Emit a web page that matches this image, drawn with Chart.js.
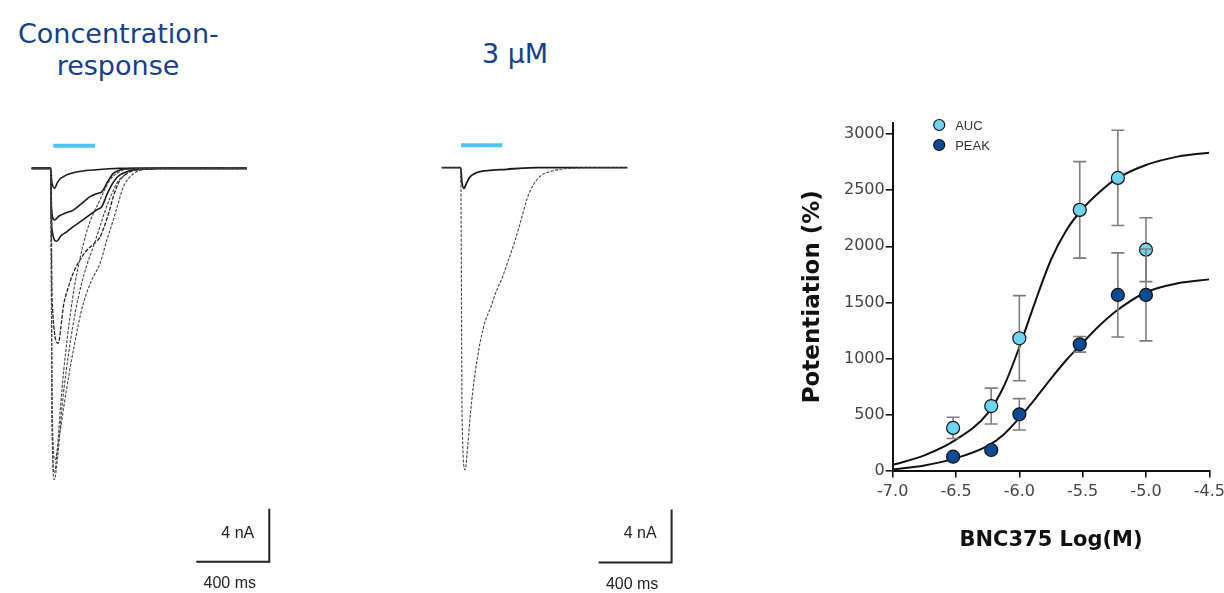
<!DOCTYPE html>
<html>
<head>
<meta charset="utf-8">
<script src="https://cdn.jsdelivr.net/npm/chart.js@4.4.1/dist/chart.umd.min.js"></script>
<style>
    body { margin: 0; background: #fff; width: 1224px; height: 593px; position: relative; overflow: hidden; }
    .panel { position: absolute; }
    .title { position: absolute; color: #143f8c; font: 27px "DejaVu Sans"; line-height: 32px; text-align: center; white-space: nowrap; }
</style>
</head>
<body>
<div class="title" style="left:18px; top:18px; width:200px;">Concentration-<br>response</div>
<div class="title" style="left:465px; top:38px; width:100px;">3 μM</div>

<div class="panel" style="left:0; top:120px; width:300px; height:473px;"><canvas id="crTraces"></canvas></div>
<div class="panel" style="left:420px; top:120px; width:300px; height:473px;"><canvas id="midTraces"></canvas></div>
<div class="panel" style="left:770px; top:100px; width:454px; height:493px;"><canvas id="doseChart"></canvas></div>

<script>
// traces: [time in ms, current in nA]
const crTrace1 = [[0,0],[104,0],[110,-1.0],[126,-1.5],[140,-1.1],[155,-0.8],[173,-0.63],[200,-0.45],[228,-0.33],[280,-0.2],[338,-0.13],[410,-0.05],[480,0],[1178,0]];
const crTrace2 = [[0,0],[104,0],[108,-3.0],[124,-3.9],[150,-3.6],[190,-3.35],[228,-3.15],[275,-2.65],[320,-2.14],[360,-1.9],[384,-1.77],[398,-1.5],[411,-1.13],[430,-0.7],[447,-0.38],[480,-0.15],[520,-0.03],[600,0],[1178,0]];
const crTrace3 = [[0,0],[104,0],[110,-4.5],[137,-5.5],[160,-5.1],[192,-4.8],[228,-4.4],[275,-3.95],[320,-3.5],[360,-3.1],[384,-2.9],[400,-2.4],[411,-2.0],[438,-1.26],[460,-0.8],[484,-0.5],[520,-0.25],[557,-0.13],[620,-0.04],[700,0],[1178,0]];
const crTrace4 = [[0,0],[104,0],[112,-10],[146,-13.2],[160,-12.0],[174,-10.4],[200,-9.0],[228,-7.9],[265,-6.9],[301,-6.2],[340,-5.7],[374,-5.2],[392,-4.6],[410,-3.9],[430,-3.0],[447,-2.14],[466,-1.4],[484,-0.88],[510,-0.5],[539,-0.25],[580,-0.12],[630,-0.05],[720,0],[1178,0]];
const crTrace5 = [[0,0],[104,0],[112,-19],[124,-23.0],[140,-21.3],[158,-18.0],[176,-15.2],[196,-12.7],[214,-10.8],[232,-9.1],[265,-6.8],[301,-4.8],[338,-3.4],[374,-2.39],[400,-1.6],[429,-0.88],[465,-0.4],[502,-0.13],[560,-0.04],[640,0],[1178,0]];
const crTrace6 = [[0,0],[104,0],[112,-20],[124,-23.5],[142,-21.8],[166,-18.0],[190,-15.2],[214,-12.9],[240,-10.8],[268,-9.0],[300,-7.4],[338,-5.9],[374,-4.4],[410,-2.9],[440,-1.9],[466,-1.13],[500,-0.6],[539,-0.25],[590,-0.08],[660,0],[1178,0]];
const crTrace7 = [[0,0],[104,0],[112,-18],[128,-22.0],[152,-20.2],[178,-17.8],[204,-15.6],[230,-13.6],[257,-11.7],[285,-10.1],[330,-8.4],[374,-7.2],[410,-5.5],[447,-3.9],[475,-2.6],[502,-1.4],[535,-0.7],[575,-0.25],[620,-0.08],[700,0],[1178,0]];

const midTrace1 = [[0,0],[104,0],[110,-1.0],[122,-1.56],[135,-1.2],[155,-0.7],[180,-0.45],[210,-0.3],[280,-0.18],[356,-0.12],[446,-0.03],[520,0],[1017,0]];
const midTrace2 = [[0,0],[104,0],[112,-19],[128,-22.8],[144,-20.8],[158,-18.5],[185,-15.3],[230,-12.0],[267,-10.6],[300,-9.3],[329,-8.4],[365,-7.0],[402,-5.5],[438,-3.8],[469,-2.3],[502,-1.3],[539,-0.65],[593,-0.3],[648,-0.12],[720,-0.04],[800,0],[1017,0]];

// drug application (ms)
const crApplication = [118, 347];
const midApplication = [106, 332];

// scale bars
const scaleBarMs = 400;
const scaleBarNA = 4;

// concentration-response
const logConc = [-6.523, -6.222, -6.0, -5.523, -5.222, -5.0];
const aucMean = [380, 575, 1180, 2325, 2610, 1970];
const aucErr = [95, 160, 380, 430, 425, 285];
const peakMean = [123, 183, 501, 1126, 1566, 1566];
const peakErr = [25, 20, 140, 70, 375, 410];

const fitX = [-7.0, -6.75, -6.5, -6.25, -6.125, -6.0, -5.875, -5.75, -5.625, -5.5, -5.375, -5.25, -5.0, -4.75, -4.5];
const aucFit = [50, 135, 275, 510, 745, 1100, 1505, 1880, 2150, 2335, 2475, 2590, 2725, 2800, 2835];
const peakFit = [8, 45, 110, 220, 320, 470, 640, 820, 990, 1140, 1285, 1410, 1590, 1670, 1705];

const xTicks = [-7.0, -6.5, -6.0, -5.5, -5.0, -4.5];
const yTicks = [0, 500, 1000, 1500, 2000, 2500, 3000];

Chart.defaults.font.family = "DejaVu Sans";
Chart.defaults.animation = false;

function toPoints(pairs) {
    return pairs.map(p => ({ x: p[0], y: p[1] }));
}

function traceSet(pairs, color, width, dash) {
    return {
        data: toPoints(pairs),
        borderColor: color,
        borderWidth: width,
        borderDash: dash || [],
        pointRadius: 0,
        cubicInterpolationMode: "monotone",
        fill: false,
    };
}

// draws "4 nA" / "400 ms" next to the scale bar dataset
const scaleBarLabels = {
    id: "scaleBarLabels",
    afterDatasetsDraw(chart) {
        const bar = chart.data.datasets.find(d => d.isScaleBar);
        if (!bar) return;
        const { ctx, scales: { x, y } } = chart;
        const p0 = bar.data[0], p1 = bar.data[1], p2 = bar.data[2];
        const cornerX = x.getPixelForValue(p1.x);
        const baseY = y.getPixelForValue(p1.y);
        const topY = y.getPixelForValue(p2.y);
        const leftX = x.getPixelForValue(p0.x);
        ctx.save();
        ctx.fillStyle = "#222";
        ctx.font = "16px 'Liberation Sans'";
        ctx.textBaseline = "middle";
        ctx.textAlign = "right";
        ctx.fillText(scaleBarNA + " nA", cornerX - 15, (baseY + topY) / 2 - 2);
        ctx.textAlign = "center";
        ctx.fillText(scaleBarMs + " ms", (leftX + cornerX) / 2 - 3, baseY + 22);
        ctx.restore();
    }
};

function traceChart(id, traces, application, barEnd, xRange, yRange) {
    const barStart = barEnd[0] - scaleBarMs;
    const datasets = traces.slice();
    datasets.push({
        data: [{ x: application[0], y: 1.7 }, { x: application[1], y: 1.7 }],
        borderColor: "#4cc4ef",
        borderWidth: 4,
        pointRadius: 0,
    });
    datasets.push({
        isScaleBar: true,
        data: [
            { x: barStart, y: barEnd[1] },
            { x: barEnd[0], y: barEnd[1] },
            { x: barEnd[0], y: barEnd[1] + scaleBarNA },
        ],
        borderColor: "#222",
        borderWidth: 2,
        pointRadius: 0,
        tension: 0,
    });
    return new Chart(document.getElementById(id), {
        type: "line",
        data: { datasets },
        options: {
            responsive: true,
            maintainAspectRatio: false,
            layout: { padding: 0 },
            plugins: { legend: { display: false }, tooltip: { enabled: false } },
            scales: {
                x: { type: "linear", display: false, min: xRange[0], max: xRange[1] },
                y: { type: "linear", display: false, min: yRange[0], max: yRange[1] },
            },
        },
        plugins: [scaleBarLabels],
    });
}

traceChart("crTraces", [
    traceSet(crTrace7, "#444", 1.1, [3, 1.5]),
    traceSet(crTrace6, "#444", 1.1, [3, 1.5]),
    traceSet(crTrace5, "#444", 1.1, [3, 1.5]),
    traceSet(crTrace4, "#222", 1.3, [4, 1.5]),
    traceSet(crTrace3, "#1a1a1a", 1.6),
    traceSet(crTrace2, "#1a1a1a", 1.6),
    traceSet(crTrace1, "#1a1a1a", 1.6),
], crApplication, [1302, -29.7], [-173.7, 1470.3], [-32.06, 3.65]);

traceChart("midTraces", [
    traceSet(midTrace2, "#444", 1.1, [3, 1.5]),
    traceSet(midTrace1, "#1a1a1a", 1.8),
], midApplication, [1260, -29.8], [-118.9, 1525.2], [-32.11, 3.6]);

// error bars drawn just before each point dataset
const errorBars = {
    id: "errorBars",
    beforeDatasetDraw(chart, args) {
        const ds = chart.data.datasets[args.index];
        if (!ds.errors) return;
        const { ctx, scales: { x, y } } = chart;
        ctx.save();
        ctx.strokeStyle = "#7d7d7d";
        ctx.lineWidth = 1.6;
        ds.data.forEach((p, i) => {
            const px = x.getPixelForValue(p.x);
            const top = y.getPixelForValue(p.y + ds.errors[i]);
            const bot = y.getPixelForValue(p.y - ds.errors[i]);
            ctx.beginPath();
            ctx.moveTo(px, top); ctx.lineTo(px, bot);
            ctx.moveTo(px - 6.5, top); ctx.lineTo(px + 6.5, top);
            ctx.moveTo(px - 6.5, bot); ctx.lineTo(px + 6.5, bot);
            ctx.stroke();
        });
        ctx.restore();
    }
};

const doseLegend = {
    id: "doseLegend",
    afterDraw(chart) {
        const { ctx, chartArea } = chart;
        const items = chart.data.datasets.filter(d => d.errors).reverse();
        ctx.save();
        items.forEach((d, i) => {
            const cx = chartArea.left + 46.5;
            const cy = chartArea.top + 2 + i * 20;
            ctx.beginPath();
            ctx.arc(cx, cy, 5.5, 0, Math.PI * 2);
            ctx.fillStyle = d.backgroundColor;
            ctx.fill();
            ctx.lineWidth = 1.2;
            ctx.strokeStyle = "#111";
            ctx.stroke();
            ctx.fillStyle = "#333";
            ctx.font = "13px 'Liberation Sans'";
            ctx.textAlign = "left";
            ctx.textBaseline = "middle";
            ctx.fillText(d.label, cx + 16, cy + 1);
        });
        ctx.restore();
    }
};

new Chart(document.getElementById("doseChart"), {
    type: "scatter",
    data: {
        datasets: [
            {
                label: "PEAK",
                data: logConc.map((c, i) => ({ x: c, y: peakMean[i] })),
                errors: peakErr,
                backgroundColor: "#0b4a94",
                borderColor: "#111",
                borderWidth: 1.2,
                pointRadius: 6.5,
            },
            {
                label: "AUC",
                data: logConc.map((c, i) => ({ x: c, y: aucMean[i] })),
                errors: aucErr,
                backgroundColor: "#6fd3f2",
                borderColor: "#111",
                borderWidth: 1.2,
                pointRadius: 6.5,
            },
            {
                label: "AUC fit",
                data: fitX.map((c, i) => ({ x: c, y: aucFit[i] })),
                showLine: true,
                borderColor: "#111",
                borderWidth: 2,
                pointRadius: 0,
                cubicInterpolationMode: "monotone",
            },
            {
                label: "PEAK fit",
                data: fitX.map((c, i) => ({ x: c, y: peakFit[i] })),
                showLine: true,
                borderColor: "#111",
                borderWidth: 2,
                pointRadius: 0,
                cubicInterpolationMode: "monotone",
            },
        ],
    },
    options: {
        responsive: true,
        maintainAspectRatio: false,
        layout: { padding: { top: 23, right: 14.7, left: 0, bottom: 0 } },
        plugins: { legend: { display: false }, tooltip: { enabled: false } },
        scales: {
            x: {
                type: "linear",
                min: -7.0,
                max: -4.5,
                afterBuildTicks: axis => { axis.ticks = xTicks.map(v => ({ value: v })); },
                afterFit: axis => { axis.height = 122.5; axis.paddingLeft = 0; axis.paddingRight = 0; },
                ticks: {
                    color: "#444",
                    font: { size: 16 },
                    padding: 5,
                    callback: v => v.toFixed(1),
                },
                grid: { drawOnChartArea: false, drawTicks: true, tickLength: 7, color: "#111", lineWidth: 1.6 },
                border: { color: "#111", width: 2 },
                title: {
                    display: true,
                    text: "BNC375 Log(M)",
                    color: "#111",
                    font: { size: 21, weight: "bold" },
                    padding: { top: 0, bottom: 40 },
                },
            },
            y: {
                type: "linear",
                min: 0,
                max: 3100,
                afterBuildTicks: axis => { axis.ticks = yTicks.map(v => ({ value: v })); },
                afterFit: axis => { axis.width = 122.7; axis.paddingTop = 0; axis.paddingBottom = 0; },
                ticks: {
                    color: "#444",
                    font: { size: 16 },
                    padding: 1,
                    callback: v => String(v),
                },
                grid: { drawOnChartArea: false, drawTicks: true, tickLength: 7, color: "#111", lineWidth: 1.6 },
                border: { color: "#111", width: 2 },
                title: {
                    display: true,
                    text: "Potentiation (%)",
                    color: "#111",
                    font: { size: 23, weight: "bold" },
                    padding: { top: 29, bottom: 0 },
                },
            },
        },
    },
    plugins: [errorBars, doseLegend],
});
</script>
</body>
</html>
